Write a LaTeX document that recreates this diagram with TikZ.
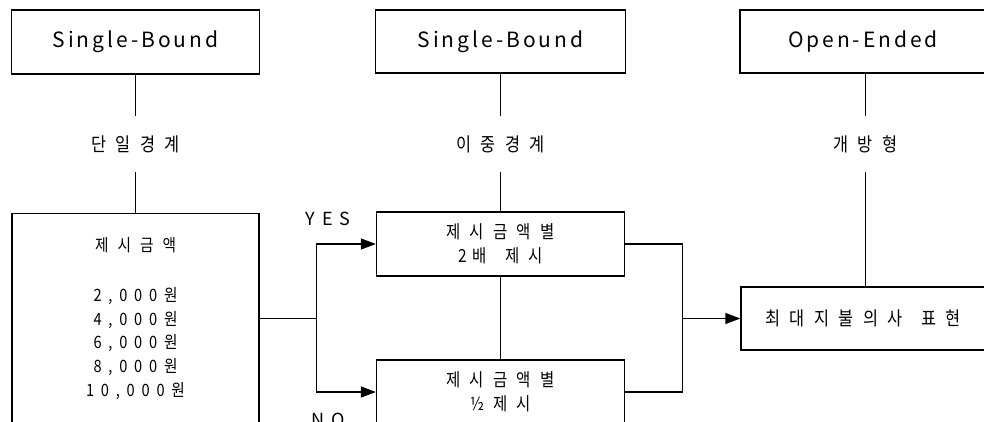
\documentclass[tikz,border=0pt]{standalone}
\usepackage{fontspec}
\setmainfont{Noto Sans CJK KR}
\newfontfamily\krf[FakeStretch=0.86]{Noto Sans CJK KR}
\usetikzlibrary{arrows.meta,calc}
\newcommand\trk[1]{\addfontfeature{LetterSpace=#1}}
\newcommand\amt[1]{{\trk{40}#1}}
\tikzset{
  box/.style={draw, line width=1.3pt, inner sep=0pt, align=center},
  lab/.style={inner sep=0pt, minimum height=56pt, minimum width=10pt, align=center},
  ln/.style={line width=1.3pt},
  arr/.style={ln, -{Triangle[length=15pt,width=11pt]}},
  hd/.style={font=\fontsize{21}{22}\selectfont\trk{14}},
  lb/.style={font=\krf\fontsize{19}{22}\selectfont\trk{30}},
  bt/.style={font=\krf\fontsize{17}{23.75}\selectfont\trk{34}},
  mt/.style={font=\krf\fontsize{18}{23.75}\selectfont\trk{32}},
  rt/.style={font=\krf\fontsize{19}{22}\selectfont\trk{30}},
  yn/.style={font=\fontsize{18}{18}\selectfont\trk{38}, inner sep=0pt},
}
\begin{document}
\begin{tikzpicture}[x=1pt,y=-1pt]
\fill[white] (0,0) rectangle (984,422);
\useasboundingbox (0,0) rectangle (984,422);
\clip (0,0) rectangle (984,422);
% header boxes
\node[box, hd, minimum width=248pt, minimum height=64pt] (h1) at (135.5,42) {Single-Bound};
\node[box, hd, minimum width=250pt, minimum height=63pt] (h2) at (500.5,41.5) {Single-Bound};
\node[box, hd, minimum width=246pt, minimum height=63pt] (h3) at (863,41.5) {Open-Ended};
% labels
\node[lab, lb] (l1) at (135.5,144) {단 일 경 계};
\node[lab, lb] (l2) at (500.5,144) {이 중 경 계};
\node[lab, lb] (l3) at (865.5,144) {개 방 형};
% boxes
\node[box, bt, minimum width=247pt, minimum height=210pt] (b1) at (135.5,318.5)
  {제 시 금 액\\[26.25pt]\amt{2,000원}\\\amt{4,000원}\\\amt{6,000원}\\\amt{8,000원}\\\amt{10,000원}};
\node[box, mt, minimum width=248pt, minimum height=64pt] (m1) at (500.5,244) {제 시 금 액 별\\2배 \ 제 시};
\node[box, mt, minimum width=248pt, minimum height=64pt] (m2) at (500.5,392) {제 시 금 액 별\\½ 제 시};
\node[box, rt, minimum width=244pt, minimum height=63pt] (r) at (863,318.5) {최 대 지 불 의 사 \ 표 현};
% YES / NO
\node[yn] (yes) at (328,219) {YES};
\node[yn] (no) at (328,420) {NO};
% split points
\coordinate (s1) at (316.5,318.5);
\coordinate (s2) at (682.5,318.5);
% connectors
\draw[ln] (h1) -- (l1);
\draw[ln] (l1) -- (b1);
\draw[ln] (h2) -- (l2);
\draw[ln] (l2) -- (m1);
\draw[ln] (h3.south -| l3) -- (l3);
\draw[ln] (l3.south) -- (l3.south |- r.north);
\draw[ln] (b1.east) -- (s1);
\draw[arr] (s1) |- (m1.west);
\draw[arr] (s1) |- (m2.west);
\draw[ln] (m1) -- (m2);
\draw[ln] (m1.east) -| (s2);
\draw[ln] (m2.east) -| (s2);
\draw[arr] (s2) -- (r.west);
\end{tikzpicture}
\end{document}
